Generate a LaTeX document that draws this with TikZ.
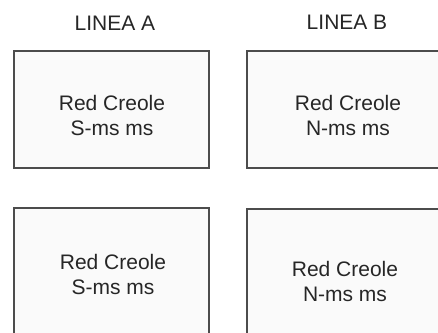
\documentclass[tikz,border=0pt]{standalone}
\usepackage{fontspec}
\setmainfont{Liberation Sans}
\begin{document}
\begin{tikzpicture}[x=1pt,y=-1pt,
  panel/.style={draw=black!70,line width=1.3pt,fill=black!2},
  lbl/.style={font=\fontsize{21}{25}\selectfont,text=black!85,align=center},
  head/.style={font=\fontsize{21}{23}\selectfont,text=black!85}]
  \useasboundingbox[fill=white] (0,0) rectangle (438,332);
  % line headings
  \node[head] (ha) at (115,23) {LINEA A};
  \node[head] (hb) at (347,22) {LINEA B};
  % upper row
  \draw[panel] (14,51) rectangle (209,168);
  \draw[panel] (247,51) rectangle (445,168);
  % lower row
  \draw[panel] (14,208) rectangle (209,340);
  \draw[panel] (247,209) rectangle (445,340);
  \node[lbl] (a1) at (112,115) {Red Creole\\S-ms ms};
  \node[lbl] (b1) at (348,115) {Red Creole\\N-ms ms};
  \node[lbl] (a2) at (113,274) {Red Creole\\S-ms ms};
  \node[lbl] (b2) at (345,281) {Red Creole\\N-ms ms};
\end{tikzpicture}
\end{document}
